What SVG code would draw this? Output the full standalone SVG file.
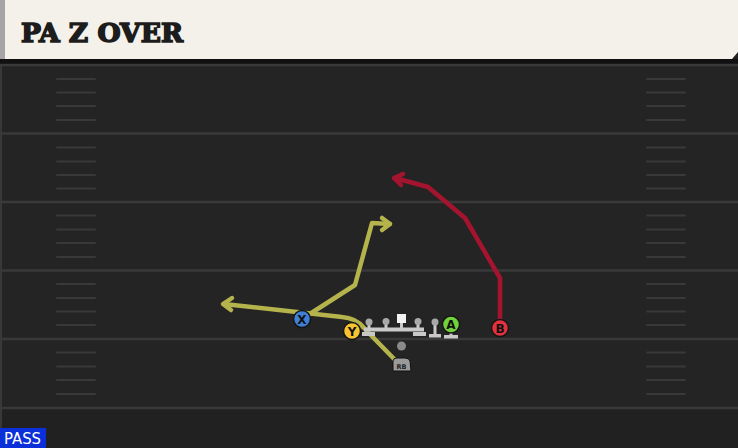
<svg xmlns="http://www.w3.org/2000/svg" width="738" height="448" viewBox="0 0 738 448">
<defs>
<style>
.fl{stroke:#393939;stroke-width:2.5}
.hm{stroke:#393939;stroke-width:2;stroke-linecap:round}
.rt{fill:none;stroke:#b5b44c;stroke-width:4.5;stroke-linejoin:round;stroke-linecap:round}
.rtb{fill:none;stroke:#a5142e;stroke-width:4.5;stroke-linejoin:round;stroke-linecap:round}
.pl{stroke:#151515;stroke-width:1.5}
.lbl{font-family:"DejaVu Sans",sans-serif;font-weight:bold;font-size:12px;text-anchor:middle;fill:#111}
.ol{fill:#c9c9c9}
.hd{fill:#a9a9a9}
</style>
</defs>
<rect x="0" y="0" width="738" height="448" fill="#212121"/>
<rect x="0" y="60" width="738" height="348" fill="#242424"/>
<!-- header -->
<rect x="0" y="59" width="738" height="5" fill="#111"/>
<polygon points="5,0 738,0 738,52 732,59 5,59" fill="#f4f1ea"/>
<rect x="0" y="0" width="5" height="59" fill="#a5a5a5"/>
<rect x="0" y="64" width="2" height="384" fill="#383838"/>
<text x="21" y="42" font-family="'DejaVu Serif',serif" font-weight="900" font-size="26" fill="#1c1c1c" stroke="#1c1c1c" stroke-width="1.6" stroke-linejoin="miter" textLength="162" lengthAdjust="spacingAndGlyphs">PA Z OVER</text>
<!-- field lines -->
<g>
<line class="fl" x1="0" y1="65" x2="738" y2="65"/>
<line class="fl" x1="0" y1="133.5" x2="738" y2="133.5"/>
<line class="fl" x1="0" y1="202" x2="738" y2="202"/>
<line class="fl" x1="0" y1="270.5" x2="738" y2="270.5"/>
<line class="fl" x1="0" y1="339" x2="738" y2="339"/>
<line class="fl" x1="0" y1="408" x2="738" y2="408"/>
</g>
<g>
<path class="hm" d="M57 79H95M57 92.5H95M57 106H95M57 120H95M57 147.5H95M57 161.5H95M57 175H95M57 188.5H95M57 215.5H95M57 229.5H95M57 243H95M57 257H95M57 284H95M57 298H95M57 311.5H95M57 325H95M57 352.5H95M57 366.5H95M57 380H95M57 394H95"/>
<path class="hm" d="M647 79H685M647 92.5H685M647 106H685M647 120H685M647 147.5H685M647 161.5H685M647 175H685M647 188.5H685M647 215.5H685M647 229.5H685M647 243H685M647 257H685M647 284H685M647 298H685M647 311.5H685M647 325H685M647 352.5H685M647 366.5H685M647 380H685M647 394H685"/>
</g>
<!-- connectors -->
<g id="connectors">
<path class="rtb" d="M500 326 L500 278 L465 218 L428 187 L395 178"/>
<path class="rtb" d="M403 174 L394 178 L401 185"/>
<path class="rt" d="M398 363 L364 328 Q356 318 342 317 L224 304"/>
<path class="rt" d="M232 298 L223 304 L231 310"/>
<path class="rt" d="M302 319 L355 285 L372 223 L390 224"/>
<path class="rt" d="M382 218 L390 224 L382 230"/>
</g>
<!-- offensive line -->
<g id="OL">
<rect class="ol" x="364" y="327.5" width="60" height="4"/>
<rect class="ol" x="362" y="332" width="13" height="4"/>
<rect class="ol" x="413" y="332" width="13" height="4"/>
<rect class="ol" x="367.5" y="322" width="3" height="7"/>
<rect class="ol" x="384.5" y="322" width="3" height="7"/>
<rect class="ol" x="400" y="320" width="3" height="9"/>
<rect class="ol" x="416.5" y="322" width="3" height="7"/>
<circle class="hd" cx="369" cy="322" r="3.5"/>
<circle class="hd" cx="386" cy="321.5" r="3.5"/>
<circle class="hd" cx="418" cy="321.5" r="3.5"/>
<rect x="397" y="314" width="9" height="9" fill="#f2f2f2"/>
</g>
<g id="TE">
<rect class="ol" x="433.5" y="322" width="3" height="13"/>
<rect class="ol" x="429" y="334" width="12" height="3.5"/>
<circle class="hd" cx="435" cy="322" r="3.5"/>
</g>
<g id="QB"><circle cx="401.5" cy="346" r="4.5" fill="#8a8a8a"/></g>
<g id="RB">
<path d="M393 361 Q393 358 397 358 L405 358 Q409 358 410 361 L411 371 L393 371 Z" fill="#9a9a9a" stroke="#111" stroke-width="1"/>
<text x="401.5" y="369" font-family="'DejaVu Sans',sans-serif" font-weight="bold" font-size="6.5" text-anchor="middle" fill="#222">RB</text>
</g>
<g id="X"><circle class="pl" cx="302" cy="319" r="8.5" fill="#3f7fd6"/><text class="lbl" x="302" y="323.5">X</text></g>
<g id="Y"><circle class="pl" cx="352" cy="331" r="8.5" fill="#f5c430"/><text class="lbl" x="352" y="335.5">Y</text></g>
<g id="A">
<rect class="ol" x="449.5" y="330" width="3" height="6"/>
<rect class="ol" x="444" y="335" width="14" height="3.5"/>
<circle class="pl" cx="451" cy="324.5" r="8.5" fill="#72d23a"/><text class="lbl" x="451" y="329">A</text></g>
<g id="B"><circle class="pl" cx="500" cy="328" r="8.5" fill="#e3313f"/><text class="lbl" x="500" y="332.5">B</text></g>
<!-- badge -->
<g id="PASS">
<rect x="0" y="428" width="46" height="20" fill="#0b2fd8"/>
<text x="4" y="444" font-family="'DejaVu Sans',sans-serif" font-size="15" fill="#fff" textLength="37" lengthAdjust="spacingAndGlyphs">PASS</text>
</g>
</svg>
